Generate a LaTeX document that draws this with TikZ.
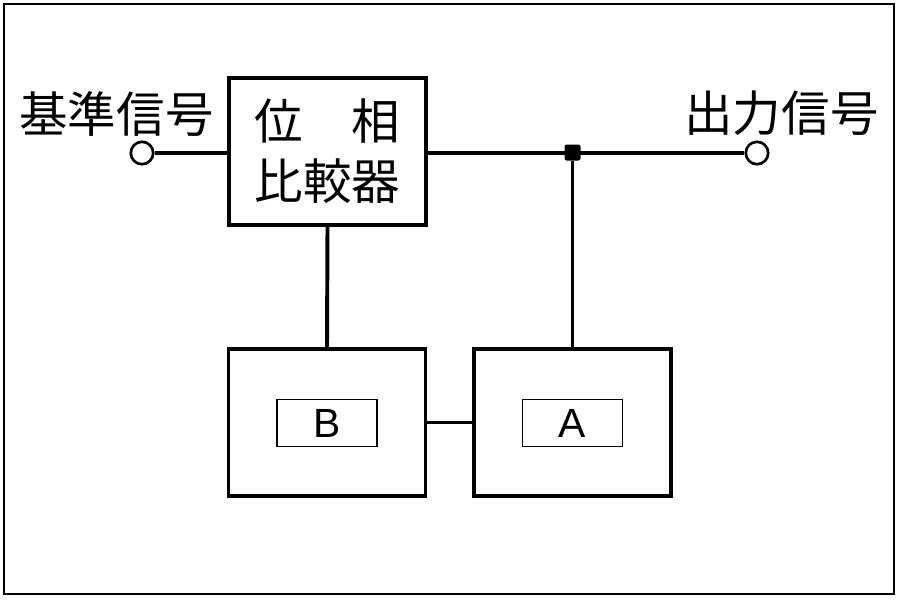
\documentclass[tikz,border=0pt]{standalone}
\usepackage{fontspec}
\setmainfont{Liberation Sans}
\newfontfamily\jpfont{Noto Sans CJK JP}
\begin{document}
\begin{tikzpicture}[x=0.025cm,y=-0.025cm,
  blok/.style={draw,line width=2.4pt,minimum width=4.93cm,minimum height=3.68cm,inner sep=0pt},
  mei/.style={draw,line width=1.2pt,minimum width=2.5cm,minimum height=1.18cm,inner sep=0pt,font=\fontsize{29pt}{29pt}\selectfont},
  tanshi/.style={draw,circle,line width=1.9pt,minimum size=0.56cm,inner sep=0pt,fill=white},
  jp/.style={font=\jpfont\fontsize{34.5pt}{42.7pt}\selectfont},
  sen/.style={line width=2.8pt}]
	\useasboundingbox (0,0) rectangle (900,600);
	\draw[line width=1.4pt] (4,4) rectangle (894,594);
	% blocks
	\node[blok,jp,align=center] (hikaku) at (327.5,151.5) {位　相\\比較器};
	\node[blok] (bB) at (327,422.5) {};
	\node[blok] (bA) at (572.5,422.5) {};
	\node[mei] (mB) at (327,423) {B};
	\node[mei] (mA) at (572.5,423) {A};
	% terminals
	\node[tanshi] (kijun) at (142,153) {};
	\node[tanshi] (shutsu) at (757,153) {};
	\node[jp] at (116.5,113.5) {基準信号};
	\node[jp] at (781.5,113.5) {出力信号};
	% wiring
	\draw[sen] (kijun) -- (kijun -| hikaku.west);
	\draw[sen] (shutsu -| hikaku.east) -- (shutsu);
	\node[fill=black,minimum size=0.4cm,inner sep=0pt,rounded corners=1.5pt] (bunki) at (572.5,152.5) {};
	\draw[sen] (bunki) -- (bA.north);
	\draw[sen] (hikaku.south) -- (bB.north);
	\draw[sen] (bB.east) -- (bA.west);
\end{tikzpicture}
\end{document}
